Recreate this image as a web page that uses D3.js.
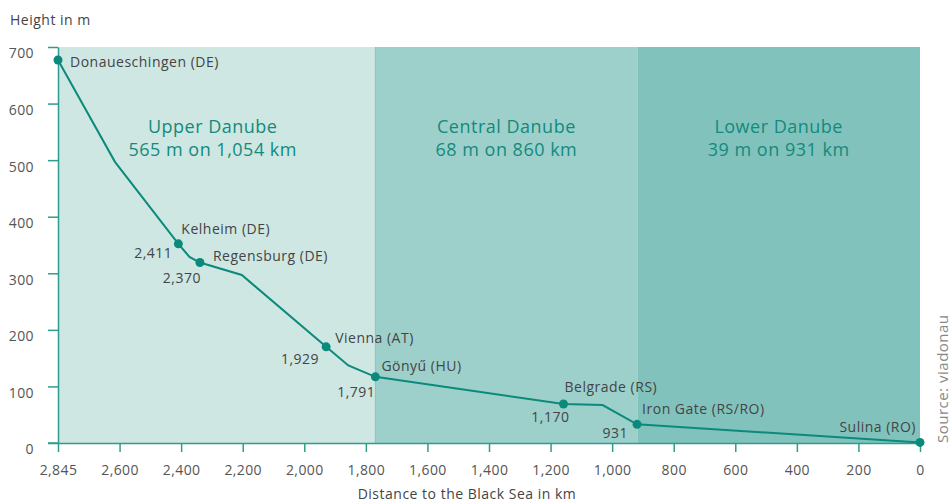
<!DOCTYPE html>
<html>
<head>
<meta charset="utf-8">
<script src="https://cdn.jsdelivr.net/npm/d3@7"></script>
<style>
  body { margin: 0; background: #fff; }
  text { font-family: "Open Sans", Roboto, sans-serif; letter-spacing: 0.5px; }
  .tick text { fill: #555; font-size: 14px; letter-spacing: 0.4px; }
  .axis path, .axis line { stroke: #2f9c8f; stroke-width: 1.5; }
</style>
</head>
<body>
<div id="chart"></div>
<script>
/* Danube height profile */

const width = 951, height = 503,
    margin = ({ top: 47, right: 31, bottom: 60, left: 58 });

// river profile: km position as drawn, height in m
const profileKm = [2800, 2615, 2409, 2373, 2339, 2203, 1929, 1857, 1769, 1158, 1031, 919, 0];
const profileHeight = [677, 497, 352, 329, 319, 297, 170, 137, 117, 69, 67, 33, 1];

// named stations (dots)
const stationNames = ["Donaueschingen (DE)", "Kelheim (DE)", "Regensburg (DE)", "Vienna (AT)", "Gönyű (HU)", "Belgrade (RS)", "Iron Gate (RS/RO)", "Sulina (RO)"];
const stationKm = [2800, 2409, 2339, 1929, 1769, 1158, 919, 0];
const stationHeight = [677, 352, 319, 170, 117, 69, 33, 1];
const stationKmLabels = ["", "2,411", "2,370", "1,929", "1,791", "1,170", "931", ""];

// river sections
const sectionNames = ["Upper Danube", "Central Danube", "Lower Danube"];
const sectionSubtitles = ["565 m on 1,054 km", "68 m on 860 km", "39 m on 931 km"];
const sectionFrom = [2800, 1769, 918];
const sectionTo = [1769, 918, 0];
const sectionColors = ["#cee7e3", "#9dd0cb", "#81c3bc"];

const xTicks = [2800, 2600, 2400, 2200, 2000, 1800, 1600, 1400, 1200, 1000, 800, 600, 400, 200, 0];
const yTicks = [0, 100, 200, 300, 400, 500, 600, 700];

const svg = d3.select("#chart")
    .append("svg")
    .attr("width", width)
    .attr("height", height);

let x = d3.scaleLinear()
    .domain([2800, 0])
    .range([margin.left, width - margin.right]);

let y = d3.scaleLinear()
    .domain([0, 700])
    .range([height - margin.bottom, margin.top]);

// background bands
svg.append("g").selectAll("rect")
    .data(sectionNames)
    .join("rect")
    .attr("x", (d, i) => x(sectionFrom[i]))
    .attr("y", y(700))
    .attr("width", (d, i) => x(sectionTo[i]) - x(sectionFrom[i]))
    .attr("height", y(0) - y(700))
    .attr("fill", (d, i) => sectionColors[i]);

// thin separator between upper and central
svg.append("line")
    .attr("x1", x(sectionTo[0])).attr("x2", x(sectionTo[0]))
    .attr("y1", y(700)).attr("y2", y(0))
    .attr("stroke", "#84c4bd")
    .attr("stroke-width", 1);

// section titles
const sec = svg.append("g")
    .attr("fill", "#138a7d")
    .attr("font-size", 18)
    .attr("letter-spacing", "0.7px")
    .attr("text-anchor", "middle");

sectionNames.forEach((name, i) => {
    let cx = (x(sectionFrom[i]) + x(sectionTo[i])) / 2;
    if (i === 0) cx -= 4;
    sec.append("text").attr("x", cx).attr("y", 133).text(name);
    sec.append("text").attr("x", cx).attr("y", 156).text(sectionSubtitles[i]);
});

// axes
svg.append("g")
    .attr("class", "axis y-axis")
    .attr("transform", `translate(${margin.left},0)`)
    .call(d3.axisLeft(y).tickValues(yTicks).tickSize(10).tickSizeOuter(0).tickPadding(14))
    .call(g => g.selectAll(".tick text").attr("dy", "0.78em"));

svg.append("g")
    .attr("class", "axis x-axis")
    .attr("transform", `translate(0,${y(0)})`)
    .call(d3.axisBottom(x).tickValues(xTicks).tickSize(9).tickSizeOuter(0).tickPadding(13)
        .tickFormat(d => d === 2800 ? "2,845" : d3.format(",")(d)));

// extend baseline left to the y tick
svg.append("line")
    .attr("x1", margin.left - 10).attr("x2", margin.left)
    .attr("y1", y(0)).attr("y2", y(0))
    .attr("stroke", "#2f9c8f").attr("stroke-width", 1.5);

// profile line
let line = d3.line()
    .x((d, i) => x(profileKm[i]))
    .y((d, i) => y(profileHeight[i]));

svg.append("path")
    .datum(profileKm)
    .attr("d", line)
    .attr("fill", "none")
    .attr("stroke", "#0b8a7c")
    .attr("stroke-width", 2);

// station dots
svg.append("g").selectAll("circle")
    .data(stationNames)
    .join("circle")
    .attr("cx", (d, i) => x(stationKm[i]))
    .attr("cy", (d, i) => y(stationHeight[i]))
    .attr("r", 4.5)
    .attr("fill", "#0b8a7c");

// station name labels: offsets from the dot
const nameDx = [12, 3, 13, 9, 6, 1, 5, -4];
const nameDy = [7, -10, -2, -4, -6, -12, -10, -10];
const nameAnchor = ["start", "start", "start", "start", "start", "start", "start", "end"];

svg.append("g")
    .attr("font-size", 14)
    .attr("fill", "#444")
    .selectAll("text")
    .data(stationNames)
    .join("text")
    .attr("x", (d, i) => x(stationKm[i]) + nameDx[i])
    .attr("y", (d, i) => y(stationHeight[i]) + nameDy[i])
    .attr("text-anchor", (d, i) => nameAnchor[i])
    .text(d => d);

// km labels under the dots
const kmDx = [0, -6, 1, -7, 0, 6, -9, 0];
const kmDy = [0, 14, 20, 17, 20, 18, 14, 0];

svg.append("g")
    .attr("font-size", 14)
    .attr("fill", "#444")
    .attr("text-anchor", "end")
    .selectAll("text")
    .data(stationKmLabels)
    .join("text")
    .attr("x", (d, i) => x(stationKm[i]) + kmDx[i])
    .attr("y", (d, i) => y(stationHeight[i]) + kmDy[i])
    .text(d => d);

// axis titles
svg.append("text")
    .attr("x", 10)
    .attr("y", 25)
    .attr("font-size", 14)
    .attr("fill", "#444")
    .text("Height in m");

svg.append("text")
    .attr("x", (margin.left + width - margin.right) / 2 - 22)
    .attr("y", 499)
    .attr("text-anchor", "middle")
    .attr("font-size", 14)
    .attr("fill", "#444")
    .text("Distance to the Black Sea in km");

svg.append("text")
    .attr("transform", `translate(948,443) rotate(-90)`)
    .attr("font-size", 15)
    .attr("fill", "#888")
    .text("Source: viadonau");
</script>
</body>
</html>
